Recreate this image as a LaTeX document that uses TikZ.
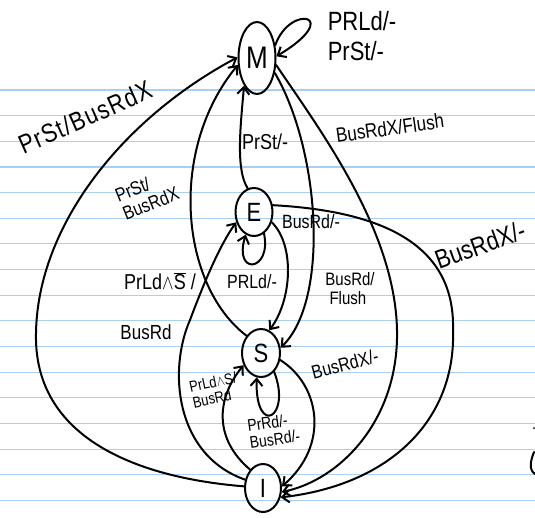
\documentclass[tikz,border=0pt]{standalone}
\usepackage{fontspec}
\setmainfont{Liberation Sans}
\usepackage{graphicx}
\usetikzlibrary{arrows.meta,shapes.geometric}
\definecolor{ruling}{RGB}{168,208,242}
\newcommand\fs[1]{\fontsize{#1}{#1}\selectfont}
\newcommand\tall[1]{\scalebox{1}[1.2]{#1}}
\newcommand\notS{\ensuremath{\overline{\mbox{S}}}}
\tikzset{
  ink/.style={line width=2pt, line cap=round, line join=round},
  edge/.style={ink, -{Straight Barb[length=7pt,width=12pt]}},
  state/.style={ellipse, draw, ink, inner sep=0pt},
  lbl/.style={inner sep=0pt, align=left}
}
\begin{document}
\begin{tikzpicture}[x=1pt,y=-1pt]
\useasboundingbox (0,0) rectangle (535,517);
\fill[white] (0,0) rectangle (535,517);
% ruled paper
\foreach \k in {0,...,16}
  \draw[ruling, line width=1.1pt] (0,{90+25.65*\k}) -- (535,{90+25.65*\k});

% states
\node[state, minimum width=37pt, minimum height=72pt] (M) at (257,58) {\tall{\fs{26}M}};
\node[state, minimum width=37pt, minimum height=48pt] (E) at (254,212) {\tall{\fs{22}E}};
\node[state, minimum width=38pt, minimum height=48pt] (S) at (261,353) {\tall{\fs{22}S}};
\node[state, minimum width=36pt, minimum height=48pt] (I) at (263,488) {\tall{\fs{22}I}};

% transitions
\draw[edge] (M.35) .. controls (290,3) and (345,15) .. (M.5);
\draw[edge] (I.175) .. controls (140,478) and (38,440) .. (36,340)
            .. controls (34,230) and (120,120) .. (M.178);
\draw[edge] (S.130) .. controls (180,285) and (168,150) .. (M.200);
\draw[edge] (E.105) .. controls (236,170) and (240,130) .. (M.245);
\draw[edge] (M.-40) .. controls (320,150) and (330,300) .. (S.15);
\draw[edge] (M.-20) .. controls (320,130) and (395,230) .. (397,330)
            .. controls (399,420) and (340,480) .. (I.-12);
\draw[edge] (E.20) .. controls (400,212) and (455,255) .. (453,330)
            .. controls (456,420) and (390,485) .. (I.-28);
\draw[edge] (E.-30) .. controls (295,245) and (292,300) .. (S.70);
\draw[edge] (E.-65) .. controls (272,272) and (233,276) .. (E.-110);
\draw[edge] (I.155) .. controls (175,455) and (168,370) .. (190,320)
            .. controls (205,280) and (220,245) .. (E.210);
\draw[edge] (I.125) .. controls (215,440) and (215,400) .. (S.215);
\draw[edge] (S.-55) .. controls (292,418) and (255,438) .. (S.-100);
\draw[edge] (S.-20) .. controls (320,385) and (330,445) .. (I.5);

% transition labels
\node[lbl] (lM) at (362,40) {\tall{\fs{22}\begin{tabular}{@{}l@{}}PRLd/-\\[2pt]PrSt/-\end{tabular}}};
\node[lbl, rotate=24] (lIM) at (85,117) {\tall{\fs{22}\addfontfeatures{LetterSpace=6}PrSt/BusRdX}};
\node[lbl, rotate=8] (lMI) at (390,128) {\tall{\fs{17}BusRdX/Flush}};
\node[lbl] (lEM) at (265,142) {\tall{\fs{18}PrSt/-}};
\node[lbl, rotate=22] (lSM) at (148,197) {\tall{\fs{16}\begin{tabular}{@{}l@{}}PrSt/\\BusRdX\end{tabular}}};
\node[lbl] (lES) at (311,222) {\tall{\fs{16}BusRd/-}};
\node[lbl, rotate=20] (lEI) at (480,245) {\tall{\fs{22}BusRdX/-}};
\node[lbl] (lIE) at (160,281) {\tall{\fs{18}PrLd$\wedge$\notS{} /}};
\node[lbl] (lIE2) at (146,332) {\tall{\fs{17}BusRd}};
\node[lbl] (lEE) at (252,282) {\tall{\fs{16}PRLd/-}};
\node[lbl] (lMS) at (350,291) {\tall{\fs{15}\begin{tabular}{@{}l@{}}BusRd/\\\ Flush\end{tabular}}};
\node[lbl, rotate=15] (lSI) at (345,364) {\tall{\fs{16}BusRdX/-}};
\node[lbl, rotate=12] (lIS) at (215,392) {\tall{\fs{13}\begin{tabular}{@{}l@{}}PrLd$\wedge$S/\\BusRd\end{tabular}}};
\node[lbl, rotate=8] (lSS) at (274,433) {\tall{\fs{14}\begin{tabular}{@{}l@{}}PrRd/-\\BusRd/-\end{tabular}}};

% stray pen marks at the right edge
\draw[ink] (534,452) .. controls (530,462) and (529,470) .. (535,474);
\fill (534,428) circle (1pt);
\end{tikzpicture}
\end{document}
